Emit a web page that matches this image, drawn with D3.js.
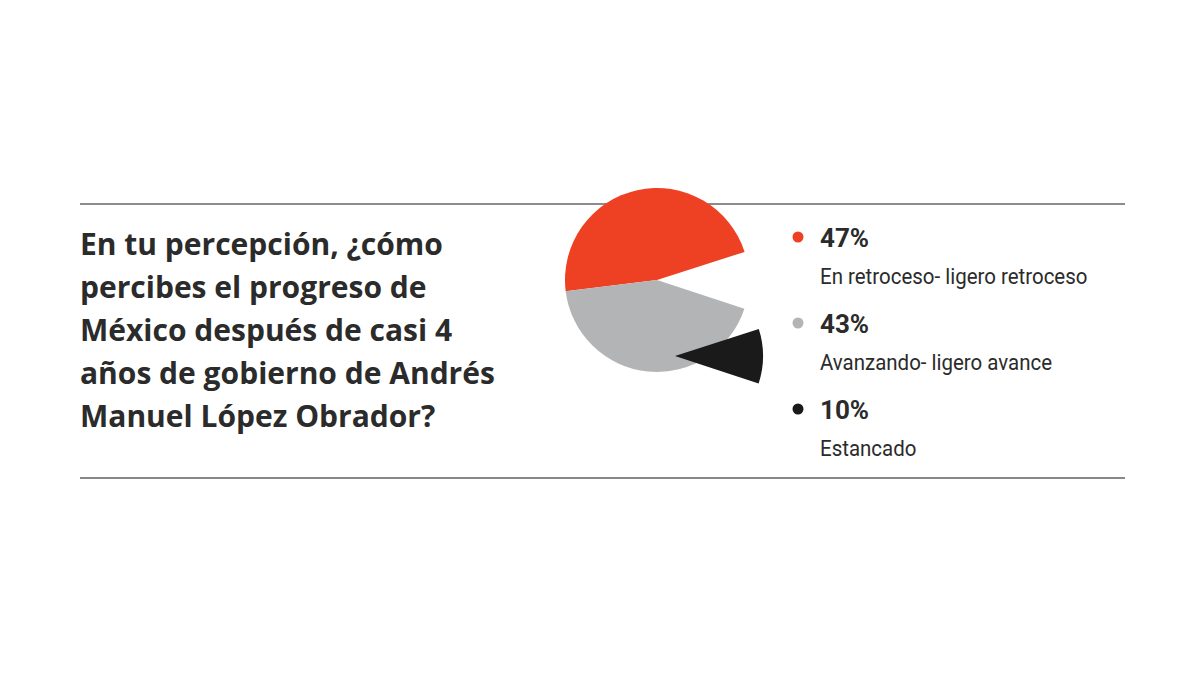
<!DOCTYPE html>
<html><head><meta charset="utf-8">
<script src="https://cdn.jsdelivr.net/npm/d3@7"></script>
<style>body{margin:0;background:#fff}</style>
</head><body>
<svg id="main" width="1200" height="675"></svg>
<script>
var categories = ['En retroceso- ligero retroceso', 'Estancado', 'Avanzando- ligero avance'];
var values = [47, 10, 43];
var colors = ['#ee4123', '#1a1a1a', '#b3b4b6'];
var legendOrder = [0, 2, 1];
var titleLines = ['En tu percepción, ¿cómo', 'percibes el progreso de',
    'México después de casi 4', 'años de gobierno de Andrés', 'Manuel López Obrador?'];

var svg = d3.select('#main');

// rules
svg.append('line').attr('x1', 80).attr('x2', 1125).attr('y1', 204).attr('y2', 204)
    .attr('stroke', '#666').attr('stroke-width', 1.5);
svg.append('line').attr('x1', 80).attr('x2', 1125).attr('y1', 478).attr('y2', 478)
    .attr('stroke', '#888').attr('stroke-width', 2);

// pie (black slice pulled out, drawn last so it sits on top)
var pie = d3.pie().sort(null).startAngle(-97 * Math.PI / 180).endAngle(263 * Math.PI / 180);
var arcs = pie(values);
var arc = d3.arc().innerRadius(0);
var g = svg.append('g').attr('transform', 'translate(657,280)');
[0, 2, 1].forEach(function(i) {
    var d = arcs[i];
    var r = i == 1 ? 88 : 92;
    var off = i == 1 ? [18, 76] : [0, 0];
    g.append('path')
        .attr('transform', 'translate(' + off + ')')
        .attr('d', arc.outerRadius(r)(d))
        .attr('fill', colors[i]);
});

// title
svg.selectAll('.title').data(titleLines).enter().append('text')
    .attr('x', 80).attr('y', function(d, i) { return 255 + i * 43; })
    .attr('font-family', 'Open Sans').attr('font-weight', 700).attr('font-size', 30)
    .attr('fill', '#2b2b2b')
    .text(function(d) { return d; });

// legend
var leg = svg.selectAll('.leg').data(legendOrder).enter().append('g')
    .attr('transform', function(d, i) { return 'translate(0,' + (i * 86) + ')'; });
leg.append('circle').attr('cx', 798).attr('cy', 237).attr('r', 5.5)
    .attr('fill', function(d) { return colors[d]; });
leg.append('text').attr('x', 820).attr('y', 247)
    .attr('font-family', 'Roboto').attr('font-weight', 700).attr('font-size', 26)
    .attr('fill', '#2b2b2b')
    .text(function(d) { return values[d] + '%'; });
leg.append('text').attr('x', 820).attr('y', 284)
    .attr('font-family', 'Liberation Sans Narrow, Roboto').attr('font-size', 22)
    .attr('fill', '#2b2b2b')
    .text(function(d) { return categories[d]; })
    .each(function() {
        var w = this.getComputedTextLength();
        d3.select(this).attr('textLength', w * 0.93).attr('lengthAdjust', 'spacingAndGlyphs');
    });
</script>
</body></html>
